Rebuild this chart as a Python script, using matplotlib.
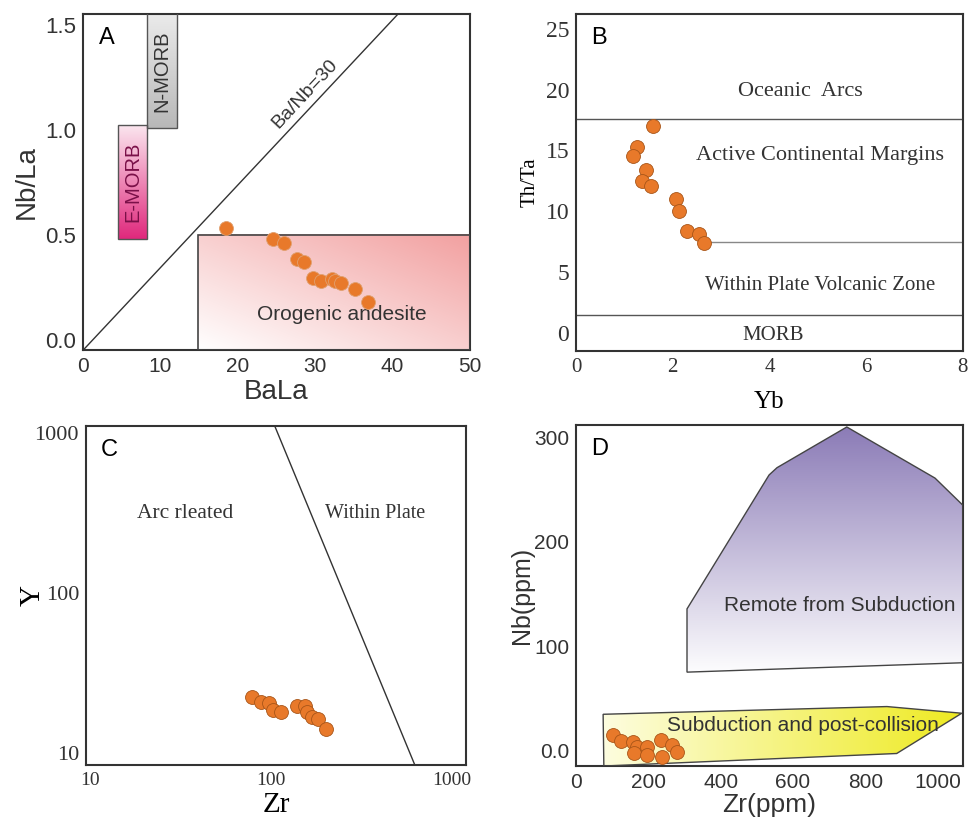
import numpy as np
import matplotlib
matplotlib.use("Agg")
import matplotlib.pyplot as plt
from matplotlib.patches import Polygon, Rectangle
from matplotlib.colors import to_rgb

# ---- panel A: Nb/La vs Ba/La
a_bala = [18.5, 24.5, 26.0, 27.7, 28.6, 29.7, 30.8, 32.2, 32.6, 33.4, 35.1, 36.8]
a_nbla = [0.533, 0.48, 0.46, 0.385, 0.37, 0.295, 0.28, 0.29, 0.28, 0.27, 0.24, 0.18]

# ---- panel B: Th/Ta vs Yb
b_yb = [1.59, 1.26, 1.18, 1.45, 1.36, 1.55, 2.07, 2.13, 2.29, 2.54, 2.64]
b_thta = [17.0, 15.3, 14.5, 13.4, 12.5, 12.1, 11.0, 10.0, 8.4, 8.1, 7.4]

# ---- panel C: Y vs Zr (log-log)
c_zr = [78.5, 88, 97.5, 102.6, 113.5, 139, 154, 158, 169, 182, 201]
c_y = [22.4, 20.8, 20.5, 18.6, 18.0, 19.7, 19.7, 18.0, 16.8, 16.3, 14.1]

# ---- panel D: Nb vs Zr
d_zr = [102, 124, 157, 168, 160, 196, 196, 235, 238, 265, 279]
d_nb = [14.4, 8.7, 7.7, 2.9, -2.9, 2.9, -4.8, 9.6, -6.7, 4.8, -1.9]

# field outlines
remote_x = [307, 307, 534, 556, 749, 993, 1070, 1070]
remote_y = [75, 135.6, 264, 271, 310, 261, 235, 84]
subd_x = [77, 75, 860, 1067, 887, 77]
subd_y = [-15, 34.6, 42, 35.6, -3, -15]

dot_face = "#e8792a"
dot_edge = "#a85518"
spine_col = "#333333"
sans = "Liberation Sans"
serif = "Liberation Serif"


def gradient(ax, extent, c0, c1, direction="y", clip=None, z=1):
    n = 200
    u = np.linspace(0, 1, n)
    if direction == "y":
        t = np.tile(u[:, None], (1, n))
    elif direction == "x":
        t = np.tile(u[None, :], (n, 1))
    else:
        t = (u[None, :] + u[:, None]) / 2
    a, b = np.array(to_rgb(c0)), np.array(to_rgb(c1))
    img = a[None, None, :] * (1 - t[..., None]) + b[None, None, :] * t[..., None]
    im = ax.imshow(img, extent=extent, origin="lower", aspect="auto", zorder=z,
                   interpolation="bilinear")
    if clip is not None:
        im.set_clip_path(clip)
    return im


def style(ax, font, xsize, ysize):
    for s in ax.spines.values():
        s.set_color(spine_col)
        s.set_linewidth(1.5)
    ax.tick_params(length=0, pad=5, labelcolor="#333333")
    ax.tick_params(axis="x", labelsize=xsize)
    ax.tick_params(axis="y", labelsize=ysize)
    for lab in ax.get_xticklabels() + ax.get_yticklabels():
        lab.set_family(font)


fig = plt.figure(figsize=(9.72, 8.32), dpi=100)

# ================= A
ax = fig.add_axes([0.0854, 0.579, 0.398, 0.404])
rect = Rectangle((14.9, -0.05), 35.1, 0.55, fill=False, ec="#444444", lw=1.2, zorder=3)
ax.add_patch(rect)
gradient(ax, [14.9, 50, -0.05, 0.5], "#ffffff", "#f2a0a0", "xy", z=1)
emorb = Rectangle((4.5, 0.48), 3.8, 0.54, fill=False, ec="#555555", lw=1, zorder=3)
ax.add_patch(emorb)
gradient(ax, [4.5, 8.3, 0.48, 1.02], "#e0287c", "#fbe6ef", "y", z=1)
nmorb = Rectangle((8.3, 1.01), 3.9, 0.6, fill=False, ec="#555555", lw=1, zorder=3)
ax.add_patch(nmorb)
gradient(ax, [8.3, 12.2, 1.01, 1.61], "#b8b8b8", "#f0f0f0", "y", z=1)
ax.plot([0, 40.7], [-0.05, 1.55], color="#333333", lw=1, zorder=2)
ax.scatter(a_bala, a_nbla, s=100, c=dot_face, edgecolors="#e0a070", linewidths=0.6, zorder=4)
ax.text(28.7, 1.17, "Ba/Nb=30", rotation=47, ha="center", va="center", fontsize=14,
        family=sans, color="#333333")
ax.text(6.4, 0.75, "E-MORB", rotation=90, ha="center", va="center", fontsize=14.5,
        family=sans, color="#7a1048")
ax.text(10.2, 1.28, "N-MORB", rotation=90, ha="center", va="center", fontsize=14.5,
        family=sans, color="#333333")
ax.text(33.4, 0.12, "Orogenic andesite", ha="center", va="center", fontsize=15,
        family=sans, color="#333333")
ax.text(0.04, 0.93, "A", transform=ax.transAxes, fontsize=17, family=sans, va="center")
ax.set_xlim(0, 50)
ax.set_ylim(-0.05, 1.55)
ax.set_xticks([0, 10, 20, 30, 40, 50])
ax.set_yticks([0.0, 0.5, 1.0, 1.5])
ax.set_yticklabels(["0.0", "0.5", "1.0", "1.5"])
ax.set_xlabel("BaLa", fontsize=20, family=sans, color="#333333", labelpad=2)
ax.set_ylabel("Nb/La", fontsize=20, family=sans, color="#333333", labelpad=4)
style(ax, sans, 15, 16)

# ================= B
ax = fig.add_axes([0.5926, 0.578, 0.398, 0.405])
ax.axhline(17.6, color="#555555", lw=1)
ax.plot([2.77, 8], [7.5, 7.5], color="#888888", lw=1)
ax.axhline(1.5, color="#555555", lw=1)
ax.scatter(b_yb, b_thta, s=100, c=dot_face, edgecolors=dot_edge, linewidths=0.6, zorder=4)
ax.text(4.63, 19.8, "Oceanic  Arcs", ha="center", va="center", fontsize=16, family=serif,
        color="#333333")
ax.text(5.04, 14.6, "Active Continental Margins", ha="center", va="center", fontsize=16,
        family=serif, color="#333333")
ax.text(5.04, 3.9, "Within Plate Volcanic Zone", ha="center", va="center", fontsize=15,
        family=serif, color="#333333")
ax.text(4.07, -0.25, "MORB", ha="center", va="center", fontsize=15, family=serif,
        color="#333333")
ax.text(0.04, 0.93, "B", transform=ax.transAxes, fontsize=17, family=sans, va="center")
ax.set_xlim(0, 8)
ax.set_ylim(-1.5, 26.2)
ax.set_xticks([0, 2, 4, 6, 8])
ax.set_yticks([0, 5, 10, 15, 20, 25])
ax.set_xlabel("Yb", fontsize=18, family=serif, labelpad=10)
ax.set_ylabel("Th/Ta", fontsize=15, family=serif, labelpad=4)
style(ax, serif, 15, 17)

# ================= C
ax = fig.add_axes([0.0885, 0.0805, 0.391, 0.4075])
ax.set_xscale("log")
ax.set_yscale("log")
ax.plot([105, 625], [1106, 8.4], color="#333333", lw=1)
ax.scatter(c_zr, c_y, s=100, c=dot_face, edgecolors=dot_edge, linewidths=0.6, zorder=4)
ax.text(33.5, 316, "Arc rleated", ha="center", va="center", fontsize=15.5, family=serif,
        color="#333333")
ax.text(376, 316, "Within Plate", ha="center", va="center", fontsize=14.5, family=serif,
        color="#333333")
ax.text(0.04, 0.93, "C", transform=ax.transAxes, fontsize=17, family=sans, va="center")
ax.set_xlim(9.5, 1200)
ax.set_ylim(8.4, 1106)
ax.set_xticks([10, 100, 1000])
ax.set_xticklabels(["10", "100", "1000"])
ax.set_yticks([10, 100, 1000])
ax.set_yticklabels(["10", "100", "1000"])
ax.minorticks_off()
ax.set_xlabel("Zr", fontsize=21, family=serif, labelpad=2)
ax.set_ylabel("Y", fontsize=21, family=serif, labelpad=-8)
style(ax, serif, 14, 16)

# ================= D
ax = fig.add_axes([0.5926, 0.0793, 0.398, 0.41])
rem = Polygon(list(zip(remote_x, remote_y)), closed=True, fill=False, ec="#444444",
              lw=1, zorder=3)
ax.add_patch(rem)
gradient(ax, [300, 1075, 70, 312], "#ffffff", "#8a7ab6", "y", clip=rem, z=1)
sub = Polygon(list(zip(subd_x, subd_y)), closed=True, fill=False, ec="#444444",
              lw=1, zorder=3)
ax.add_patch(sub)
gradient(ax, [70, 1075, -16, 45], "#fdfde0", "#eeea20", "x", clip=sub, z=1)
ax.scatter(d_zr, d_nb, s=100, c=dot_face, edgecolors=dot_edge, linewidths=0.6, zorder=4)
ax.text(730, 139, "Remote from Subduction", ha="center", va="center", fontsize=15,
        family=sans, color="#333333")
ax.text(628, 24, "Subduction and post-collision", ha="center", va="center", fontsize=15,
        family=sans, color="#333333")
ax.text(0.04, 0.93, "D", transform=ax.transAxes, fontsize=17, family=sans, va="center")
ax.set_xlim(0, 1070)
ax.set_ylim(-15, 312)
ax.set_xticks([0, 200, 400, 600, 800, 1000])
ax.set_yticks([0, 100, 200, 300])
ax.set_yticklabels(["0.0", "100", "200", "300"])
ax.set_xlabel("Zr(ppm)", fontsize=19, family=sans, color="#333333", labelpad=1)
ax.set_ylabel("Nb(ppm)", fontsize=18, family=sans, color="#333333", labelpad=0)
style(ax, sans, 15, 15)

fig.savefig("out.png", dpi=100)
